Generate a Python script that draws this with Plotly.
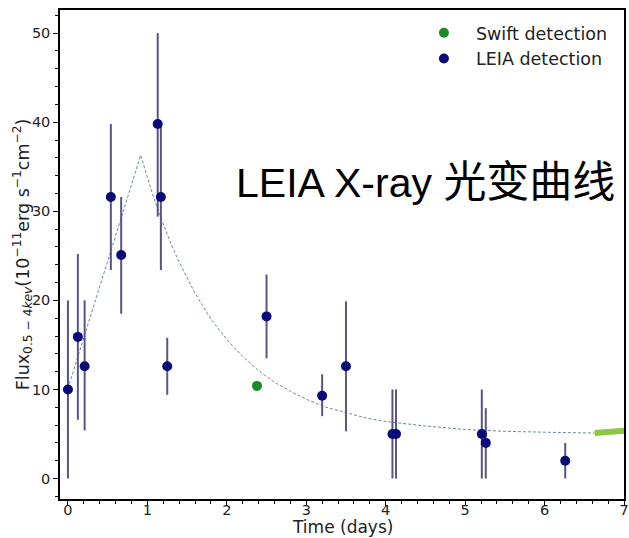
import plotly.graph_objects as go

# LEIA detections: time (days), flux, lower / upper bounds of the error bar
leia_t = [0.0, 0.125, 0.21, 0.54, 0.67, 1.13, 1.17, 1.25, 2.50, 3.20, 3.50, 4.085, 4.13, 5.21, 5.26, 6.26]
leia_f = [10.0, 15.9, 12.6, 31.6, 25.1, 39.8, 31.6, 12.6, 18.2, 9.3, 12.6, 5.0, 5.0, 5.0, 4.0, 2.0]
leia_lo = [0.0, 6.6, 5.4, 23.4, 18.5, 29.4, 23.4, 9.4, 13.5, 7.0, 5.3, 0.0, 0.0, 0.0, 0.0, 0.0]
leia_hi = [20.0, 25.2, 20.0, 39.8, 31.6, 50.0, 39.8, 15.8, 22.9, 11.7, 19.9, 10.0, 10.0, 10.0, 7.9, 4.0]

# Swift detection
swift_t = [2.38]
swift_f = [10.4]

# Light-curve model (fast rise, exponential decay)
model_t = [0.0, 0.2, 0.4, 0.6, 0.8, 0.916, 1.0, 1.1, 1.2, 1.3, 1.4, 1.5, 1.6, 1.8, 2.0,
           2.2, 2.4, 2.6, 2.8, 3.0, 3.25, 3.5, 3.75, 4.0, 4.5, 5.0, 5.5, 6.0, 6.63]
model_f = [10.1, 15.8, 21.5, 27.3, 33.0, 36.3, 33.8, 31.0, 28.6, 26.3, 24.3, 22.5, 20.8, 17.9, 15.6,
           13.7, 12.1, 10.8, 9.8, 8.9, 8.0, 7.4, 6.8, 6.4, 5.9, 5.5, 5.3, 5.2, 5.1]

# Extension of the model beyond the last observation
ext_t = [6.63, 7.06]
ext_f = [5.1, 5.4]

x_ticks = [0, 1, 2, 3, 4, 5, 6, 7]
y_ticks = [0, 10, 20, 30, 40, 50]

err_plus = [h - f for h, f in zip(leia_hi, leia_f)]
err_minus = [f - l for f, l in zip(leia_f, leia_lo)]

fig = go.Figure()

fig.add_trace(go.Scatter(
    x=model_t, y=model_f, mode="lines",
    line=dict(color="#6a8a94", width=1, dash="3px,2px"),
    showlegend=False, hoverinfo="skip",
))
fig.add_trace(go.Scatter(
    x=ext_t, y=ext_f, mode="lines",
    line=dict(color="#8dc63f", width=6),
    showlegend=False, hoverinfo="skip",
))
fig.add_trace(go.Scatter(
    x=swift_t, y=swift_f, mode="markers", name="Swift detection",
    marker=dict(color="#1c8a2c", size=10),
    legendgroup="swift",
))
fig.add_trace(go.Scatter(
    x=leia_t, y=leia_f, mode="markers", name="LEIA detection",
    marker=dict(color="#0a0a78", size=10),
    error_y=dict(type="data", symmetric=False, array=err_plus, arrayminus=err_minus,
                 color="#55558a", thickness=2, width=0),
    legendgroup="leia",
))

# Headline over the plot
fig.add_annotation(
    xref="paper", yref="paper", x=0.308, y=0.656, xanchor="left", yanchor="middle",
    text="LEIA X-ray <span style=\"font-family:'Noto Sans CJK SC';font-size:43px\">光变曲线</span>",
    showarrow=False,
    font=dict(family="Liberation Sans, Arial, sans-serif", size=41, color="#000000"),
)

# Axis titles
fig.add_annotation(
    xref="paper", yref="paper", x=0.5, y=-0.0798, xanchor="center", yanchor="bottom",
    text="Time (days)", showarrow=False, borderpad=0,
    font=dict(family="DejaVu Sans", size=17, color="#222222"),
)
fig.add_annotation(
    xref="paper", yref="paper", x=-0.066, y=0.5, xanchor="center", yanchor="middle",
    textangle=-90, showarrow=False,
    font=dict(family="DejaVu Sans", size=17.5, color="#222222"),
    text="Flux<sub>0.5 − 4<i>kev</i></sub>(10<sup>−11</sup>erg s<sup>−1</sup>cm<sup>−2</sup>)",
)

axis_common = dict(
    showline=True, linecolor="#000000", linewidth=1.5, mirror=True,
    ticks="outside", ticklen=5, tickwidth=1, tickcolor="#000000",
    showgrid=False, zeroline=False, automargin=False,
    tickfont=dict(family="DejaVu Sans", size=14.5, color="#222222"),
)

fig.update_xaxes(
    range=[-0.1, 7], tickvals=x_ticks, ticklabelstandoff=-8,
    minor=dict(ticks="outside", ticklen=3, tickcolor="#000000", dtick=0.2),
    **axis_common,
)
fig.update_yaxes(
    range=[-2.3, 52.6], tickvals=y_ticks,
    minor=dict(ticks="outside", ticklen=3, tickcolor="#000000", dtick=2),
    **axis_common,
)

fig.update_layout(
    width=629, height=538,
    margin=dict(l=60, r=5, t=10, b=39, autoexpand=False),
    paper_bgcolor="#ffffff", plot_bgcolor="#ffffff",
    legend=dict(x=0.624, y=0.99, xanchor="left", yanchor="top",
                bgcolor="rgba(255,255,255,0.8)", borderwidth=0,
                font=dict(family="DejaVu Sans", size=17.5, color="#222222"),
                itemwidth=54, tracegroupgap=0),
)

fig.write_html("out.html")
